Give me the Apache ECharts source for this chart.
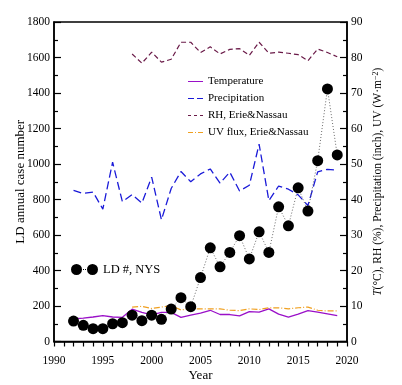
<!DOCTYPE html>
<html>
<head>
<meta charset="utf-8">
<script src="https://cdn.jsdelivr.net/npm/echarts@6/dist/echarts.min.js"></script>
<style>html,body{margin:0;padding:0;background:#fff;}#c{width:402px;height:385px;}</style>
</head>
<body>
<div id="c"></div>
<script>
const years = [1992,1993,1994,1995,1996,1997,1998,1999,2000,2001,2002,2003,2004,2005,2006,2007,2008,2009,2010,2011,2012,2013,2014,2015,2016,2017,2018,2019];
const ldCases = [115,91,72,72,100,106,148,117,148,125,183,247,196,360,528,421,502,596,465,618,502,759,652,866,735,1019,1423,1051];
const precipitation = [42.6,41.7,42.1,37.3,50.5,39.4,41.4,39.0,46.3,34.3,43.1,47.9,45.0,47.2,48.6,44.6,47.7,42.4,44.0,55.6,39.7,43.8,42.9,41.3,38.3,47.8,48.5,48.3];
const temperature = [6.4,6.6,6.9,7.3,6.9,6.8,9.1,8.2,7.5,8.2,8.2,6.8,7.4,8.0,8.8,7.6,7.6,7.2,8.4,8.3,9.2,7.7,6.9,7.7,8.7,8.3,7.8,7.3];
const rhYears = [1998,1999,2000,2001,2002,2003,2004,2005,2006,2007,2008,2009,2010,2011,2012,2013,2014,2015,2016,2017,2018,2019];
const rh = [81.0,78.4,81.5,78.7,79.5,84.3,84.3,81.4,83.0,81.0,82.3,82.5,80.6,84.3,81.2,81.5,81.2,80.8,79.1,82.4,81.4,80.2];
const uv = [9.7,9.9,9.3,9.7,10.1,8.9,9.2,9.2,9.2,9.2,8.8,8.7,9.2,9.0,9.5,9.5,9.2,9.5,9.7,8.8,8.6,8.6];
const leftTicks = {min:0, max:1800, interval:200};
const rightTicks = {min:0, max:90, interval:10};
const xTicks = {min:1990, max:2020, interval:5};

const colors = {temp: '#9a10c8', precip: '#1a1ad8', rh: '#6a1a48', uv: '#f0a020', ld: '#000'};
const pair = (xs, ys) => xs.map((x, i) => [x, ys[i]]);
const font = 'Liberation Serif';
const plain = v => String(v);
const chart = echarts.init(document.getElementById('c'));
const axisCommon = {
  axisLine: {show: true, lineStyle: {color: '#000', width: 1.5}},
  splitLine: {show: false},
  nameMoveOverlap: false,
  axisLabel: {color: '#000', fontFamily: font, fontSize: 11.5, formatter: plain},
  nameTextStyle: {color: '#000', fontFamily: font, fontSize: 13}
};
chart.setOption({
  animation: false,
  backgroundColor: '#fff',
  grid: {left: 54, right: 55, top: 22, bottom: 43.5, show: true, borderColor: '#000', borderWidth: 1.5, backgroundColor: 'transparent', containLabel: false, outerBoundsMode: 'none'},
  xAxis: Object.assign({}, axisCommon, {
    type: 'value', min: xTicks.min, max: xTicks.max, interval: xTicks.interval,
    name: 'Year', nameLocation: 'middle', nameGap: 28,
    axisTick: {show: true, inside: false, length: 5, lineStyle: {color: '#000', width: 1.2}},
    minorTick: {show: true, splitNumber: 5, length: 5, lineStyle: {color: '#000', width: 1.2}},
    axisLabel: Object.assign({}, axisCommon.axisLabel, {margin: 13})
  }),
  yAxis: [
    Object.assign({}, axisCommon, {
      type: 'value', position: 'left', min: leftTicks.min, max: leftTicks.max, interval: leftTicks.interval,
      name: 'LD annual case number', nameLocation: 'middle', nameGap: 27,
      axisTick: {show: true, inside: true, length: 7, lineStyle: {color: '#000', width: 1.2}},
      minorTick: {show: true, splitNumber: 2, length: 4, lineStyle: {color: '#000', width: 1.2}},
      axisLabel: Object.assign({}, axisCommon.axisLabel, {margin: 4})
    }),
    Object.assign({}, axisCommon, {
      type: 'value', position: 'right', min: rightTicks.min, max: rightTicks.max, interval: rightTicks.interval,
      name: '{i|T}(°C), RH (%), Precipitation (inch), UV (W·m{s|−2})', nameLocation: 'middle', nameGap: 25,
      nameTextStyle: {color: '#000', fontFamily: font, fontSize: 11.5, rich: {i: {fontStyle: 'italic', fontFamily: font, fontSize: 11.5}, s: {fontSize: 8, verticalAlign: 'top', fontFamily: font}}},
      axisTick: {show: true, inside: true, length: 7, lineStyle: {color: '#000', width: 1.2}},
      minorTick: {show: true, splitNumber: 2, length: 4, lineStyle: {color: '#000', width: 1.2}},
      axisLabel: Object.assign({}, axisCommon.axisLabel, {margin: 4})
    })
  ],
  legend: [
    {
      orient: 'vertical', left: 183, top: 70, itemWidth: 15, itemHeight: 1.8, itemGap: 4,
      textStyle: {color: '#000', fontFamily: font, fontSize: 11, lineHeight: 13},
      data: [
        {name: 'Temperature', icon: 'path://M0,0h15v1h-15Z', itemStyle: {color: colors.temp}},
        {name: 'Precipitation', icon: 'path://M0,0h6v1h-6Z M9,0h6v1h-6Z', itemStyle: {color: colors.precip}},
        {name: 'RH, Erie&Nassau', icon: 'path://M0,0h3v1h-3Z M6,0h3v1h-3Z M12,0h3v1h-3Z', itemStyle: {color: colors.rh}},
        {name: 'UV flux, Erie&Nassau', icon: 'path://M0,0h5v1h-5Z M7,0h1v1h-1Z M10,0h5v1h-5Z', itemStyle: {color: colors.uv}}
      ]
    },
    {
      orient: 'vertical', left: 66, top: 258, itemWidth: 27, itemHeight: 11,
      textStyle: {color: '#000', fontFamily: font, fontSize: 12.5},
      data: [{name: 'LD #, NYS', icon: 'path://M0,5.5a5.5,5.5 0 1,0 11,0a5.5,5.5 0 1,0 -11,0Z M16,5.5a5.5,5.5 0 1,0 11,0a5.5,5.5 0 1,0 -11,0Z M12,5h1v1h-1Z M14,5h1v1h-1Z', itemStyle: {color: colors.ld}}]
    }
  ],
  series: [
    {name: 'Temperature', type: 'line', yAxisIndex: 1, data: pair(years, temperature), symbol: 'none',
     lineStyle: {color: colors.temp, width: 1.3}, itemStyle: {color: colors.temp}},
    {name: 'Precipitation', type: 'line', yAxisIndex: 1, data: pair(years, precipitation), symbol: 'none',
     lineStyle: {color: colors.precip, width: 1.3, type: [8, 4]}, itemStyle: {color: colors.precip}},
    {name: 'RH, Erie&Nassau', type: 'line', yAxisIndex: 1, data: pair(rhYears, rh), symbol: 'none',
     lineStyle: {color: colors.rh, width: 1.2, type: [5, 3]}, itemStyle: {color: colors.rh}},
    {name: 'UV flux, Erie&Nassau', type: 'line', yAxisIndex: 1, data: pair(rhYears, uv), symbol: 'none',
     lineStyle: {color: colors.uv, width: 1.2, type: [6, 2, 1, 2]}, itemStyle: {color: colors.uv}},
    {name: 'LD #, NYS', type: 'line', yAxisIndex: 0, data: pair(years, ldCases), symbol: 'circle', symbolSize: 11,
     lineStyle: {color: '#444', width: 0.8, type: [1, 2]}, itemStyle: {color: colors.ld}, z: 5}
  ]
});
</script>
</body>
</html>
